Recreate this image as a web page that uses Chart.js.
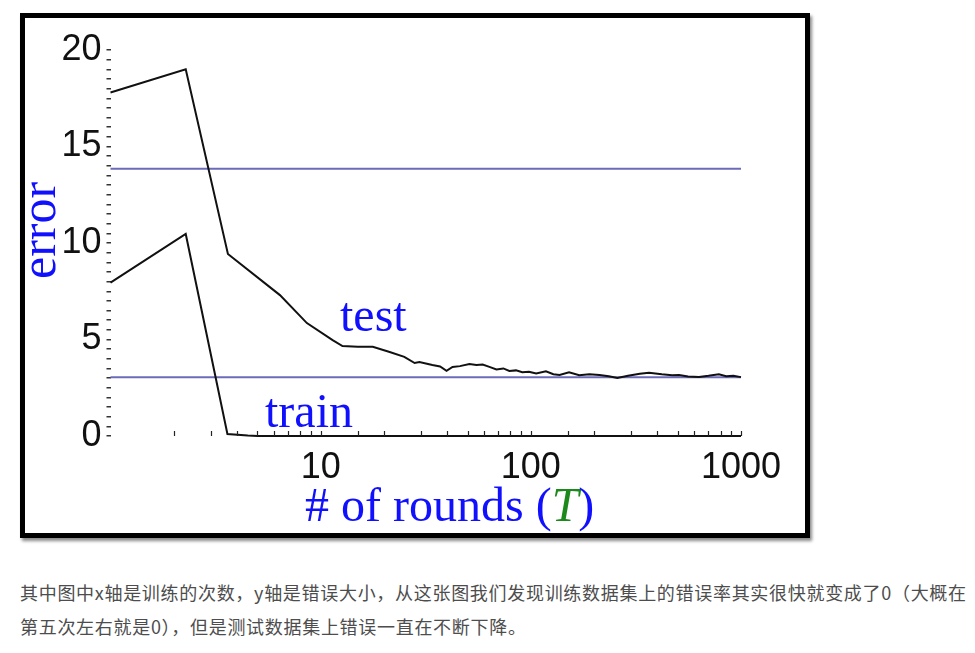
<!DOCTYPE html>
<html>
<head>
<meta charset="utf-8">
<script src="https://cdn.jsdelivr.net/npm/chart.js@4.4.1/dist/chart.umd.min.js"></script>
<style>
  html, body { margin: 0; padding: 0; background: #fff; }
  body { width: 975px; height: 653px; position: relative; overflow: hidden; }
  #frame {
    position: absolute; left: 20px; top: 13px;
    width: 780px; height: 515px;
    border: 5px solid #000;
    box-shadow: 2px 3px 3px #8a8a8a;
    background: #fff;
  }
  #chart { position: absolute; left: 0; top: 0; }
  .lbl { position: absolute; font-family: "Liberation Serif", "Times New Roman", serif; color: #1010ff; white-space: nowrap; line-height: 1; }
  #ylab { left: -12px; top: 261px; font-size: 50px; transform: rotate(-90deg); transform-origin: 0 0; }
  #xlab { left: 280px; top: 463px; font-size: 48px; }
  #xlab i { color: #1b8a1b; }
  #testLab { left: 315px; top: 273px; font-size: 48px; }
  #trainLab { left: 240px; top: 369px; font-size: 48px; }
  #note {
    position: absolute; left: 20px; top: 575px;
    font-family: "Noto Sans CJK SC", sans-serif; font-size: 18px;
    line-height: 34px; color: #4d4d4d; letter-spacing: 0.7px; white-space: nowrap;
  }
</style>
</head>
<body>
<div id="frame">
  <canvas id="chart" width="780" height="515"></canvas>
  <div class="lbl" id="ylab">error</div>
  <div class="lbl" id="xlab"># of rounds (<i>T</i>)</div>
  <div class="lbl" id="testLab">test</div>
  <div class="lbl" id="trainLab">train</div>
</div>
<div id="note">
  <div>其中图中x轴是训练的次数，y轴是错误大小，从这张图我们发现训练数据集上的错误率其实很快就变成了0（大概在</div>
  <div>第五次左右就是0），但是测试数据集上错误一直在不断下降。</div>
</div>
<script>
// values
const testRounds = [1, 2.28, 3.62, 6.4, 8.6, 11.4, 12.7, 15, 17.7, 21.3, 25, 28, 29.5, 34, 37, 39.7, 42.4, 46, 51, 55.1, 59, 63.5, 68.6, 74, 79, 85, 91.1, 98, 106, 118, 128, 137, 152, 170, 190, 212, 235, 258, 290, 330, 365, 420, 470, 507, 560, 631, 700, 785, 850, 920, 1000]
const testError = [17.8, 19.0, 9.43, 7.3, 5.85, 4.97, 4.66, 4.62, 4.62, 4.35, 4.1, 3.78, 3.83, 3.68, 3.6, 3.38, 3.58, 3.62, 3.73, 3.68, 3.7, 3.58, 3.45, 3.5, 3.37, 3.4, 3.3, 3.33, 3.24, 3.35, 3.2, 3.16, 3.3, 3.15, 3.2, 3.16, 3.1, 3.01, 3.12, 3.22, 3.28, 3.2, 3.15, 3.16, 3.08, 3.06, 3.12, 3.2, 3.1, 3.12, 3.05]
const trainRounds = [1, 2.28, 3.6, 4.5, 5, 1000]
const trainError = [7.95, 10.47, 0.1, 0.02, 0, 0]
const refRounds = [1, 1000]
const refLevels = [13.85, 3.05]
const xLabelValues = [10, 100, 1000]
const yLabelValues = [0, 5, 10, 15, 20]

const toPoints = (xs, ys) => xs.map((x, i) => ({ x: x, y: ys[i] }))

const datasets = [
  { data: toPoints(testRounds, testError), borderColor: "#111", borderWidth: 2 },
  { data: toPoints(trainRounds, trainError), borderColor: "#111", borderWidth: 2 },
]
refLevels.forEach((lvl) => {
  datasets.push({ data: toPoints(refRounds, refRounds.map(() => lvl)), borderColor: "#6b6bb8", borderWidth: 2 })
})

// small x tick marks pointing up into the plot
const xTickMarks = {
  id: "xTickMarks",
  afterDatasetsDraw(chart) {
    const sc = chart.scales.x
    const ctx = chart.ctx
    const y0 = chart.chartArea.bottom
    ctx.save()
    ctx.strokeStyle = "#222"
    ctx.lineWidth = 1.2
    sc.ticks.forEach((t) => {
      if (t.value <= 1) return
      const px = Math.round(sc.getPixelForValue(t.value)) + 0.5
      ctx.beginPath()
      ctx.moveTo(px, y0)
      ctx.lineTo(px, y0 - 5)
      ctx.stroke()
    })
    ctx.restore()
  },
}

new Chart(document.getElementById("chart"), {
  type: "line",
  data: { datasets: datasets },
  options: {
    responsive: false,
    animation: false,
    devicePixelRatio: 1,
    layout: { padding: { top: 32, right: 64, left: 0, bottom: 0 } },
    elements: { point: { radius: 0 }, line: { tension: 0 } },
    datasets: { line: { clip: 6 } },
    plugins: { legend: { display: false }, tooltip: { enabled: false } },
    scales: {
      x: {
        type: "logarithmic",
        min: 1,
        max: 1000,
        afterFit: (s) => { s.height = 97 },
        border: { display: false },
        grid: { display: true, drawOnChartArea: false, drawTicks: false },
        ticks: {
          autoSkip: false,
          maxRotation: 0,
          padding: 10,
          color: "#111",
          font: { family: "Liberation Sans, Arial", size: 36 },
          callback: (v) => (xLabelValues.includes(v) ? String(v) : ""),
        },
      },
      y: {
        min: 0,
        max: 20,
        afterFit: (s) => { s.width = 85.5 },
        border: { display: false },
        grid: { drawOnChartArea: false, tickLength: 4, color: "#333", lineWidth: 1.5 },
        ticks: {
          stepSize: 0.5,
          autoSkip: false,
          padding: 5,
          color: "#111",
          font: { family: "Liberation Sans, Arial", size: 36 },
          callback: (v) => (yLabelValues.includes(v) ? String(v) : ""),
        },
      },
    },
  },
  plugins: [xTickMarks],
})
</script>
</body>
</html>
